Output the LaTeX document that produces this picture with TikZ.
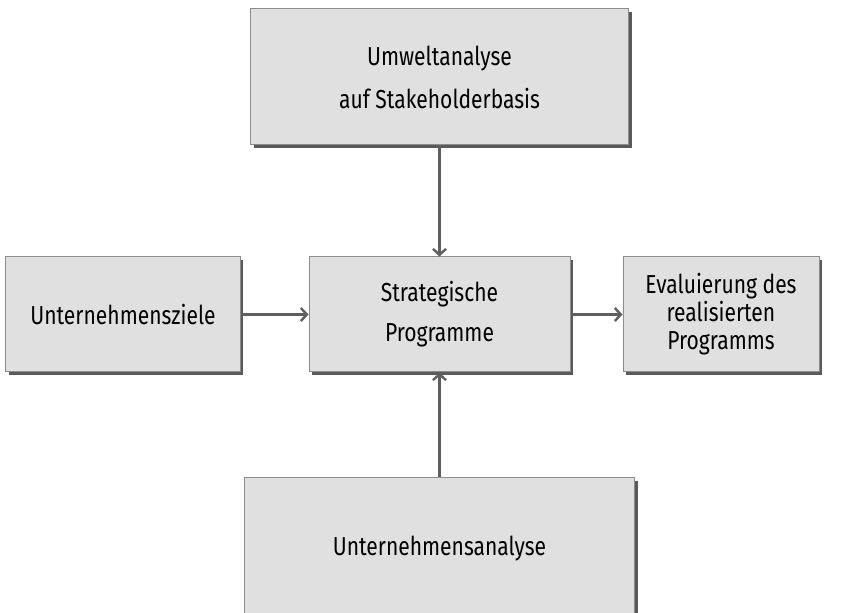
\documentclass[tikz,border=0pt]{standalone}
\usepackage{fontspec}
\setmainfont{Fira Sans}[FakeStretch=0.81]
\usetikzlibrary{arrows.meta, positioning, shadows}
\definecolor{boxfill}{HTML}{E0E0E0}
\definecolor{boxline}{HTML}{8C8C8C}
\definecolor{shadowgray}{HTML}{5A5A5A}
\definecolor{arrowgray}{HTML}{5F5F5F}

\begin{document}
\begin{tikzpicture}[node distance=52pt,
  every node/.style={font=\fontsize{13}{14}\selectfont},
  box/.style={draw=boxline, line width=0.5pt, fill=boxfill, align=center, inner sep=0pt,
    drop shadow={shadow xshift=1.5pt, shadow yshift=-1.5pt, fill=shadowgray, opacity=1}},
  link/.style={draw=arrowgray, line width=1.2pt, ->},
  >={Straight Barb[length=3pt,width=6.5pt]}]
  \useasboundingbox (-219.75pt,-149.25pt) rectangle (207.25pt,157.25pt);

  \node (main) [box, minimum width=130.5pt, minimum height=57.5pt] at (0,0) {Strategische\\[6pt]Programme};
  \node (goals) [box, left=34pt of main, minimum width=117pt, minimum height=57.5pt] {Unternehmensziele};
  \node (eval) [box, right=26pt of main, minimum width=98pt, minimum height=57.5pt] {Evaluierung des\\realisierten\\Programms};
  \node (env) [box, above=55.5pt of main, minimum width=189pt, minimum height=68pt] {\\[-4pt]Umweltanalyse\\[7.5pt]auf Stakeholderbasis};
  \node (comp) [box, below=52.5pt of main, minimum width=195pt, minimum height=71pt] {Unternehmensanalyse};

  \draw[link] (env) -- (main);
  \draw[link] (comp) -- (main);
  \draw[link] (goals) -- (main);
  \draw[link] (main) -- (eval);
\end{tikzpicture}
\end{document}
